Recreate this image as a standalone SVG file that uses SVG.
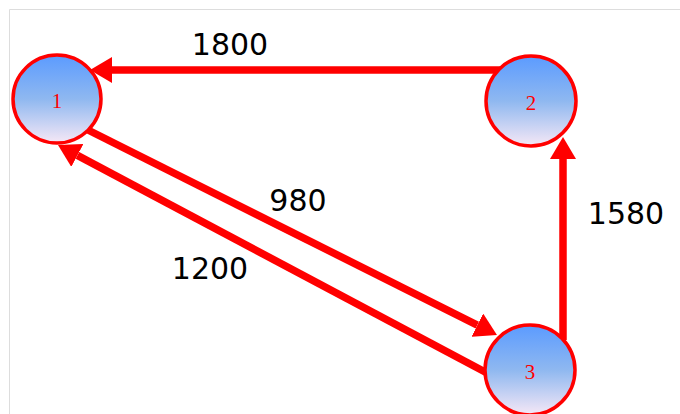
<svg xmlns="http://www.w3.org/2000/svg" width="680" height="414" viewBox="0 0 680 414">
<defs>
<linearGradient id="g" x1="0" y1="0" x2="0" y2="1">
<stop offset="0" stop-color="#5b9bff"/>
<stop offset="0.5" stop-color="#8fb8f0"/>
<stop offset="1" stop-color="#f6e8f6"/>
</linearGradient>
<marker id="ah" viewBox="0 0 22 26" refX="0" refY="13" markerWidth="22" markerHeight="26" markerUnits="userSpaceOnUse" orient="auto">
<path d="M0,0 L22,13 L0,26 z" fill="#ff0000"/>
</marker>
<style>
.edge{stroke:#ff0000;stroke-width:7.5;fill:none;marker-end:url(#ah)}
.node{fill:url(#g);stroke:#ff0000;stroke-width:3.5}
.nl{font-family:"Liberation Serif",serif;font-size:21px;fill:#ff0000;text-anchor:middle}
.el{font-family:"DejaVu Sans",sans-serif;font-size:30px;fill:#000;text-anchor:middle}
</style>
</defs>
<rect width="680" height="414" fill="#fff"/>
<path d="M9.5,414 V9.5 H680" fill="none" stroke="#dddddd" stroke-width="1"/>
<g id="connectors">
<line class="edge" x1="500" y1="70" x2="112" y2="70"/>
<line class="edge" x1="563" y1="340" x2="563" y2="159"/>
<line class="edge" x1="88" y1="130" x2="477.3" y2="325.1"/>
<line class="edge" x1="487" y1="373" x2="77.4" y2="155.4"/>
<text class="el" x="230" y="55">1800</text>
<text class="el" x="298" y="211">980</text>
<text class="el" x="626" y="224">1580</text>
<text class="el" x="210" y="279">1200</text>
</g>
<g id="node1"><circle class="node" cx="57" cy="99" r="44"/><text class="nl" x="57" y="108">1</text></g>
<g id="node2"><circle class="node" cx="531" cy="101" r="45"/><text class="nl" x="531" y="110">2</text></g>
<g id="node3"><circle class="node" cx="530" cy="370" r="45"/><text class="nl" x="530" y="379">3</text></g>
</svg>
